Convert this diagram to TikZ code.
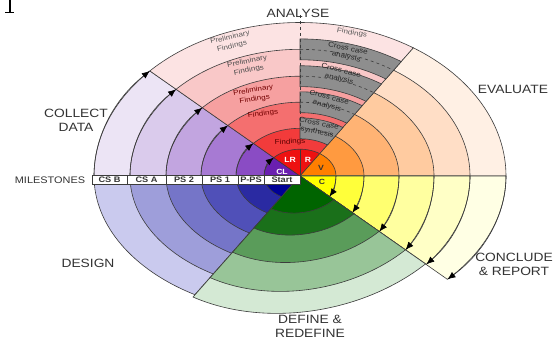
\documentclass[tikz,border=0pt]{standalone}
\usepackage{fontspec}
\setmainfont{Liberation Sans}
\newfontfamily\lblfont[FakeStretch=1.15]{Liberation Sans}
\usetikzlibrary{arrows.meta}

\definecolor{edgegray}{HTML}{3C3C3C}
\definecolor{txtgray}{HTML}{333333}
\definecolor{bandgray}{HTML}{8E8E8E}
% purple: collect data
\definecolor{P0}{HTML}{6A1FB0}\definecolor{P1}{HTML}{8A4CC4}\definecolor{P2}{HTML}{A77AD3}
\definecolor{P3}{HTML}{C2A5E0}\definecolor{P4}{HTML}{DACBEC}\definecolor{P5}{HTML}{ECE4F5}
% red: analyse
\definecolor{R0}{HTML}{EE1111}\definecolor{R1}{HTML}{F23B3B}\definecolor{R2}{HTML}{F46F6F}
\definecolor{R3}{HTML}{F6A0A0}\definecolor{R4}{HTML}{F9C8C8}\definecolor{R5}{HTML}{FCE3E3}
% orange: evaluate
\definecolor{O0}{HTML}{FF7F00}\definecolor{O1}{HTML}{FF9A40}\definecolor{O2}{HTML}{FFB374}
\definecolor{O3}{HTML}{FFCBA0}\definecolor{O4}{HTML}{FFDEC6}\definecolor{O5}{HTML}{FFF0E4}
% yellow: conclude
\definecolor{Y0}{HTML}{FFFF00}\definecolor{Y1}{HTML}{FFFF3A}\definecolor{Y2}{HTML}{FFFF70}
\definecolor{Y3}{HTML}{FFFFA0}\definecolor{Y4}{HTML}{FFFFC6}\definecolor{Y5}{HTML}{FFFFE4}
% green: define
\definecolor{G0}{HTML}{006400}\definecolor{G1}{HTML}{1A701A}\definecolor{G2}{HTML}{5A9C5A}
\definecolor{G3}{HTML}{98C598}\definecolor{G4}{HTML}{D4E9D4}
% blue: design
\definecolor{B0}{HTML}{000096}\definecolor{B1}{HTML}{2A2AA2}\definecolor{B2}{HTML}{5050B8}
\definecolor{B3}{HTML}{7575C8}\definecolor{B4}{HTML}{9E9EDA}\definecolor{B5}{HTML}{CACAEE}

% elliptical sector: start, end, x radius, y radius, style
\newcommand{\annsec}[5]{\path[#5] (O) -- ++(#1:{#3} and {#4})
  arc[start angle=#1,end angle=#2,x radius=#3,y radius=#4] -- cycle;}

\begin{document}
\begin{tikzpicture}[x=1pt,y=1pt,
  ring/.style={draw=edgegray,line width=0.6pt},
  flowarc/.style={draw=edgegray,line width=0.6pt,-{Latex[length=8pt,width=6.5pt,color=black]}},
  biglabel/.style={font=\lblfont\fontsize{12}{14}\selectfont,text=txtgray,align=center,inner sep=0pt},
  ringtext/.style={font=\lblfont\fontsize{7}{9}\selectfont,align=center,inner sep=0pt},
  bandtext/.style={font=\lblfont\fontsize{7}{8.5}\selectfont,text=black!85,align=center,inner sep=0pt},
  band/.style={fill=bandgray,draw=edgegray,line width=0.6pt},
  msbox/.style={draw=edgegray,fill=white,line width=0.5pt,minimum height=8.5pt,inner sep=0pt,
    font=\lblfont\bfseries\fontsize{8}{8}\selectfont,text=txtgray},
  corelabel/.style={font=\lblfont\bfseries\fontsize{7.5}{8}\selectfont,inner sep=0pt}
]
\useasboundingbox (0,0) rectangle (560,343);
\fill[white] (0,0) rectangle (560,343);
\coordinate (O) at (300,167);

% upper half sectors (ry = 0.745 rx)
\foreach \k/\rx/\ry in {5/206/153.5,4/170/126.7,3/134/99.8,2/99/73.8,1/64/47.7,0/36/26.8}{
  \annsec{136.8}{180}{\rx}{\ry}{ring,fill=P\k}
  \annsec{56.6}{136.8}{\rx}{\ry}{ring,fill=R\k}
  \annsec{0}{56.6}{\rx}{\ry}{ring,fill=O\k}
}
% conclude & report: rings grow rounder towards the centre
\foreach \k/\rx/\ry/\te in {5/206/148/-44.3,4/170/132/-42.0,3/134/120/-38.0,2/99/93/-36.7,1/64/64/-35,0/36/36/-35}{
  \annsec{\te}{0}{\rx}{\ry}{ring,fill=Y\k}
}
% design (ry = 0.67 rx)
\foreach \k/\rx/\ry in {5/206/138,4/170/113.9,3/134/89.8,2/99/66.3,1/64/42.9,0/36/24.1}{
  \annsec{180}{239.3}{\rx}{\ry}{ring,fill=B\k}
}
% define & redefine: tilted ellipses
\begin{scope}[shift={(O)},rotate=11.5]
  \foreach \k/\s in {4/1,3/0.84,2/0.63,1/0.43,0/0.27}{
    \pgfmathsetmacro\ga{186*\s}\pgfmathsetmacro\gb{135*\s}
    \path[ring,fill=G\k] (0,0) -- (226.1:{\ga} and {\gb})
      arc[start angle=226.1,end angle=304.55,x radius=\ga,y radius=\gb] -- cycle;
  }
\end{scope}

% direction arrows on collect data and conclude rings
\foreach \rx/\ry in {206/153.5,170/126.7,134/99.8,99/73.8,64/47.7,36/26.8}{
  \draw[flowarc] ([shift={(180:{\rx} and {\ry})}]O)
    arc[start angle=180,end angle=136.8,x radius=\rx,y radius=\ry];
}
\foreach \rx/\ry/\te in {206/148/-44.3,170/132/-42.0,134/120/-38.0,99/93/-36.7,64/64/-35,36/36/-35}{
  \draw[flowarc] ([shift={(0:{\rx} and {\ry})}]O)
    arc[start angle=0,end angle=\te,x radius=\rx,y radius=\ry];
}

% cross case bands straddling the ring boundaries
\foreach \rx in {170,134,99,64}{
  \pgfmathsetmacro\ro{\rx+14}\pgfmathsetmacro\ryo{0.745*\ro}
  \pgfmathsetmacro\ri{\rx-14}\pgfmathsetmacro\ryi{0.745*\ri}
  \pgfmathsetmacro\ryc{0.745*\rx}
  \path[band] ([shift={(90:{\ro} and {\ryo})}]O)
    arc[start angle=90,end angle=56.6,x radius=\ro,y radius=\ryo]
    -- ([shift={(56.6:{\ri} and {\ryi})}]O)
    arc[start angle=56.6,end angle=90,x radius=\ri,y radius=\ryi] -- cycle;
  \draw[edgegray,dashed,line width=0.6pt] ([shift={(90:{\rx} and {\ryc})}]O)
    arc[start angle=90,end angle=56.6,x radius=\rx,y radius=\ryc];
}

% split of the analyse section
\coordinate (dtop) at (300,328);
\coordinate (dbot) at (300,214.7);
\draw[edgegray,dashed,line width=0.6pt] (dtop) -- (dbot);
\coordinate (coretop) at (300,193.8);
\draw[edgegray,line width=0.4pt] (O) -- (coretop);

% milestone bar
\node[msbox,minimum width=35pt] (csb) at (109.5,163) {CS B};
\node[msbox,minimum width=39pt] (csa) at (146.5,163) {CS A};
\node[msbox,minimum width=36pt] (ps2) at (184,163) {PS 2};
\node[msbox,minimum width=36pt] (ps1) at (220,163) {PS 1};
\node[msbox,minimum width=26pt] (pps) at (251,163) {P-PS};
\node[msbox,minimum width=36pt] (start) at (282,163) {Start};
\node[font=\lblfont\fontsize{9.5}{10}\selectfont,text=txtgray,inner sep=0pt] (milestones) at (50,163) {MILESTONES};

% core labels
\node[corelabel,text=white] (cl) at (282,171) {CL};
\node[corelabel,text=white] (lr) at (290,183) {LR};
\node[corelabel,text=white] (rr) at (308,183) {R};
\node[corelabel,text=black!80] (vv) at (321,175) {V};
\node[corelabel,text=black!80] (cc) at (322,161) {C};

% ring texts in the analyse section
\node[ringtext,text=black!65,rotate=13] (pf5) at (231,301) {Preliminary\\Findings};
\node[ringtext,text=black!70,rotate=11] (pf4) at (248,277) {Preliminary\\Findings};
\node[ringtext,text=red!45!black,rotate=9] (pf3) at (254,248) {Preliminary\\Findings};
\node[ringtext,text=red!45!black,rotate=7] (f2) at (263,229) {Findings};
\node[ringtext,text=red!35!black,rotate=3] (f1) at (290,201) {Findings};
\node[ringtext,text=black!65,rotate=-10] (f5r) at (352,310) {Findings};
\node[bandtext,rotate=-12] (cca1) at (347,290) {Cross case\\analysis};
\node[bandtext,rotate=-14] (cca2) at (340,268) {Cross case\\analysis};
\node[bandtext,rotate=-15] (cca3) at (328,241) {Cross case\\analysis};
\node[bandtext,rotate=-12] (ccs) at (318,215) {Cross case\\synthesis};

% section labels
\node[biglabel] (analyse) at (298,330) {ANALYSE};
\node[biglabel] (evaluate) at (513,254) {EVALUATE};
\node[biglabel] (collect) at (76,223) {COLLECT\\DATA};
\node[biglabel] (design) at (88,80) {DESIGN};
\node[biglabel] (define) at (310,16.5) {DEFINE \&\\REDEFINE};
\node[biglabel] (conclude) at (514,78.5) {CONCLUDE\\\& REPORT};

% stray glyph stem in the top left corner
\fill[black] (8.5,343) rectangle (10.5,331);
\fill[black] (5,331) rectangle (14,329.8);
\end{tikzpicture}
\end{document}
